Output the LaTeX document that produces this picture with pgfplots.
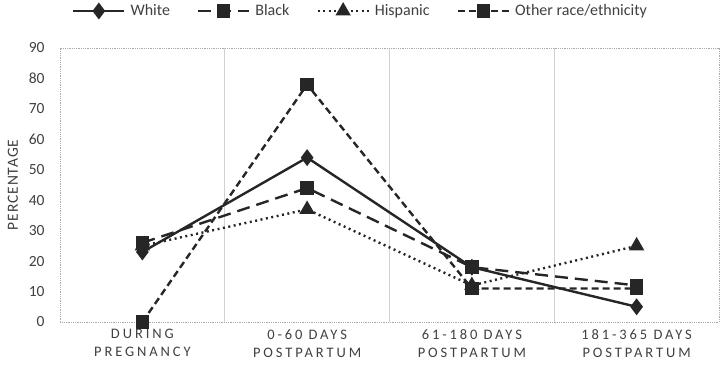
\documentclass[border=0pt]{standalone}
\usepackage{pgfplots}
\pgfplotsset{compat=1.18}
\usepackage{fontspec}
\setmainfont{Carlito}
\definecolor{txt}{RGB}{64,64,64}
\definecolor{gridc}{RGB}{210,210,210}
\definecolor{frame}{RGB}{170,170,170}
\begin{document}
\begin{tikzpicture}
\path[use as bounding box] (0,0) rectangle (724pt,370pt);
\begin{axis}[
  at={(60pt,48pt)}, anchor=south west,
  scale only axis, width=659pt, height=274pt,
  xmin=-0.5, xmax=3.5, ymin=0, ymax=90,
  xtick={0,1,2,3},
  xticklabels={DURING\\PREGNANCY, 0-60 DAYS\\POSTPARTUM, 61-180 DAYS\\POSTPARTUM, 181-365 DAYS\\POSTPARTUM},
  xticklabel style={align=center, font=\fontsize{14.5}{18}\selectfont\addfontfeature{LetterSpace=20}, text=txt, yshift=-4pt},
  minor xtick={0.5,1.5,2.5},
  xminorgrids, minor grid style={gridc, line width=1pt},
  ytick={0,10,...,90},
  yticklabel style={font=\fontsize{15.5}{18}\selectfont, text=txt, xshift=-12pt},
  /pgf/number format/assume math mode=true,
  major tick length=0pt, minor tick length=0pt,
  axis line style={frame, densely dotted, line width=0.8pt},
  ylabel={PERCENTAGE},
  ylabel style={font=\fontsize{15.5}{17}\selectfont\addfontfeature{LetterSpace=6}, text=txt, yshift=4pt},
  legend style={at={(0.5,1.0)}, anchor=center, yshift=37pt, xshift=-29pt, draw=none, fill=none,
    legend columns=4, font=\fontsize{16}{18}\selectfont, text=txt,
    /tikz/every even column/.append style={column sep=25pt},
    /tikz/every odd column/.append style={column sep=3pt}},
  legend image code/.code={\draw[mark repeat=2, mark phase=2] plot coordinates {(0pt,0pt) (25.5pt,0pt) (51pt,0pt)};},
  clip=false,
]
\addplot[black!85, line width=2.4pt, mark=diamond*, mark size=6.5pt, mark options={solid}]
  coordinates {(0,23) (1,54) (2,18) (3,5)};
\addlegendentry{White}
\addplot[black!85, line width=2.4pt, dash pattern=on 13pt off 7pt, mark=square*, mark size=5.5pt, mark options={solid}]
  coordinates {(0,26) (1,44) (2,18) (3,12)};
\addlegendentry{Black}
\addplot[black!85, line width=2.4pt, dash pattern=on 2pt off 3.5pt, mark=triangle*, mark size=6.5pt, mark options={solid}]
  coordinates {(0,25) (1,37) (2,12) (3,25)};
\addlegendentry{Hispanic}
\addplot[black!85, line width=2.4pt, dash pattern=on 7pt off 4pt, mark=square*, mark size=5.5pt, mark options={solid}]
  coordinates {(0,0) (1,78) (2,11) (3,11)};
\addlegendentry{Other race/ethnicity}
\end{axis}
\end{tikzpicture}
\end{document}
